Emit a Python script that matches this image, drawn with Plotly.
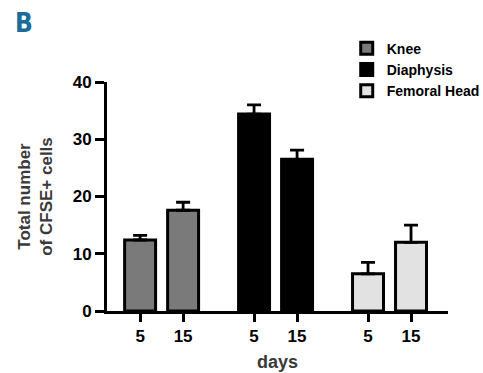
import plotly.graph_objects as go

groups = ["Knee", "Diaphysis", "Femoral Head"]
days = ["5", "15"]
values = {
    "Knee": [12.4, 17.6],
    "Diaphysis": [34.4, 26.5],
    "Femoral Head": [6.5, 12.0],
}
errors = {
    "Knee": [0.8, 1.4],
    "Diaphysis": [1.6, 1.6],
    "Femoral Head": [2.0, 3.0],
}
colors = {"Knee": "#7a7a7a", "Diaphysis": "#000000", "Femoral Head": "#e2e2e2"}
yticks = [0, 10, 20, 30, 40]

group_step = 2.65
tickvals, ticktext = [], []
fig = go.Figure()
for gi, g in enumerate(groups):
    xs = [gi * group_step + di for di in range(len(days))]
    tickvals += xs
    ticktext += days
    fig.add_trace(go.Bar(
        x=xs, y=values[g], name=g, width=0.72,
        marker=dict(color=colors[g], line=dict(color="black", width=3)),
        error_y=dict(type="data", array=errors[g], arrayminus=[0] * len(days),
                     symmetric=False, color="black", thickness=2.8, width=7),
    ))

fam = "Liberation Sans, Arial, sans-serif"
fig.update_layout(
    width=483, height=373,
    margin=dict(l=107, r=35, t=82, b=62, autoexpand=False),
    plot_bgcolor="white", paper_bgcolor="white",
    showlegend=True,
    legend=dict(x=0.703, y=1.215, xanchor="left", yanchor="top",
                font=dict(size=14, family=fam, color="black", weight="bold"),
                bgcolor="rgba(0,0,0,0)", tracegroupgap=0, traceorder="normal"),
    xaxis=dict(range=[-0.77, 7.16], tickvals=tickvals, ticktext=ticktext,
               automargin=False,
               showline=True, linecolor="black", linewidth=3,
               ticks="outside", ticklen=8, tickwidth=2.5, tickcolor="black",
               showgrid=False, zeroline=False,
               tickfont=dict(size=17, family=fam, color="black", weight="bold"),
               title=dict(text="days", font=dict(size=18, family=fam, color="#3a3a3a", weight="bold"), standoff=10)),
    yaxis=dict(range=[0, 40], tickvals=yticks, automargin=False,
               showline=True, linecolor="black", linewidth=3,
               ticks="outside", ticklen=9, tickwidth=2.5, tickcolor="black",
               showgrid=False, zeroline=False,
               tickfont=dict(size=17, family=fam, color="black", weight="bold"),
               title=dict(text="Total number<br>of CFSE+ cells", font=dict(size=17, family=fam, color="#3a3a3a", weight="bold"), standoff=16)),
)
fig.add_annotation(text="B", xref="paper", yref="paper", x=-0.276, y=1.33,
                   xanchor="left", yanchor="top", showarrow=False,
                   font=dict(size=26, family="Liberation Sans Narrow, DejaVu Sans Condensed, sans-serif",
                             color="#1a6d98", weight="bold"))
fig.write_html("out.html", config={"displayModeBar": False},
               post_script="document.body.style.margin='0px';")
